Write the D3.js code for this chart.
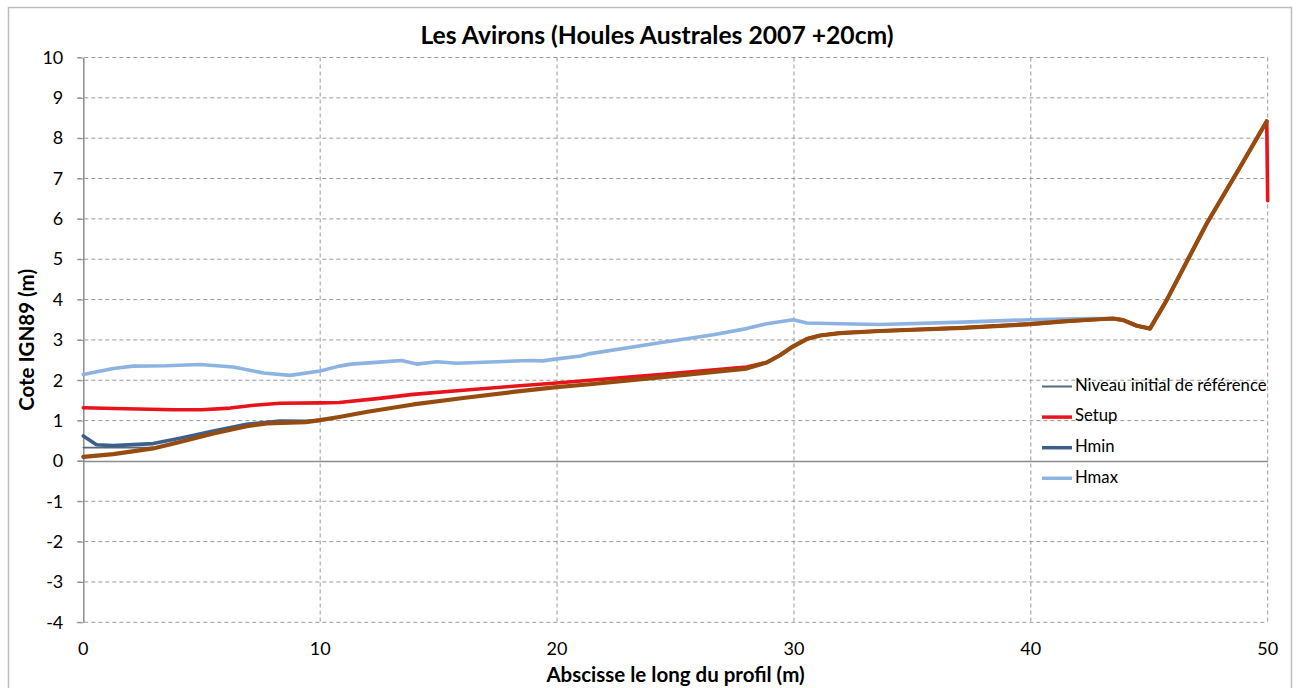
<!DOCTYPE html>
<html>
<head>
<meta charset="utf-8">
<script src="https://cdn.jsdelivr.net/npm/d3@7"></script>
<style>
  html, body { margin: 0; padding: 0; background: #ffffff; }
  svg { display: block; }
  text { font-family: Lato, "Open Sans", "DejaVu Sans", sans-serif; fill: #000; }
</style>
</head>
<body>
<svg id="chart" width="1297" height="688"></svg>
<script>
// Profile of the beach (terrain) along the cross-shore abscissa
const profileX = [0, 1.27, 2.95, 4.08, 5.49, 6.9, 7.76, 9.4, 10, 10.8, 12, 13.93, 16.04, 18.15, 19.98, 21.39, 24.34, 28, 28.85, 29.41, 29.97, 30.54, 31.1, 31.94, 33.63, 37.15, 39.96, 41.37, 42.5, 43.48, 43.9, 44.47, 45.03, 45.73, 47.42, 48.83, 49.96];
const profileZ = [0.10, 0.17, 0.31, 0.47, 0.68, 0.86, 0.93, 0.96, 1.01, 1.09, 1.22, 1.40, 1.56, 1.71, 1.83, 1.90, 2.07, 2.29, 2.44, 2.62, 2.84, 3.02, 3.11, 3.17, 3.22, 3.30, 3.39, 3.46, 3.50, 3.53, 3.49, 3.35, 3.28, 3.98, 5.88, 7.28, 8.42];

// Initial reference water level
const niveauX = [0, 3.2];
const niveauZ = [0.33, 0.33];

// Wave setup
const setupX = [0, 1.3, 3.8, 5, 6.2, 7.2, 8.3, 10, 10.8, 12.5, 13.93, 16.04, 18.15, 19.98, 21.39, 24.34, 28, 28.85, 29.41, 29.97, 30.54, 31.1, 31.94, 33.63, 37.15, 39.96, 41.37, 42.5, 43.48, 43.9, 44.47, 45.03, 45.73, 47.42, 48.83, 49.96, 50];
const setupZ = [1.32, 1.30, 1.27, 1.27, 1.31, 1.38, 1.43, 1.44, 1.45, 1.55, 1.65, 1.75, 1.85, 1.93, 2.00, 2.14, 2.33, 2.44, 2.62, 2.84, 3.02, 3.11, 3.17, 3.22, 3.30, 3.39, 3.46, 3.50, 3.53, 3.49, 3.35, 3.28, 3.98, 5.88, 7.28, 8.42, 6.45];

// Minimum water level
const hminX = [0, 0.56, 1.27, 2.95, 4.08, 5.49, 6.9, 8.3, 9.4, 10];
const hminZ = [0.62, 0.40, 0.38, 0.43, 0.56, 0.74, 0.91, 0.99, 0.98, 1.01];

// Maximum water level
const hmaxX = [0, 1.27, 2.1, 3.5, 4.93, 6.33, 7.6, 8.73, 10, 10.8, 11.3, 12.5, 13.44, 14.07, 14.92, 15.76, 17.45, 18.86, 19.4, 20, 21, 21.4, 24.34, 26.59, 28, 28.85, 29.97, 30.54, 31.94, 33.63, 37.15, 39.96, 42.5, 43.4];
const hmaxZ = [2.14, 2.29, 2.35, 2.36, 2.39, 2.33, 2.18, 2.12, 2.23, 2.35, 2.40, 2.45, 2.49, 2.40, 2.46, 2.42, 2.46, 2.49, 2.48, 2.53, 2.60, 2.66, 2.93, 3.13, 3.28, 3.40, 3.50, 3.42, 3.40, 3.38, 3.44, 3.50, 3.53, 3.53];

const xTicks = [0, 10, 20, 30, 40, 50];
const yTicks = [-4, -3, -2, -1, 0, 1, 2, 3, 4, 5, 6, 7, 8, 9, 10];
const legendLabels = ["Niveau initial de référence", "Setup", "Hmin", "Hmax"];

const svg = d3.select("#chart");

// Outer chart frame
svg.append("rect")
  .attr("x", 8.5).attr("y", 7.5)
  .attr("width", 1283).attr("height", 682)
  .attr("fill", "#fff").attr("stroke", "#bdbdbd").attr("stroke-width", 1.5);

const plot = { left: 83.3, right: 1267.7, top: 57.5, bottom: 622.3 };

const x = d3.scaleLinear().domain([0, 50]).range([plot.left, plot.right]);
const y = d3.scaleLinear().domain([-4, 10]).range([plot.bottom, plot.top]);

const grid = svg.append("g");

// Horizontal dashed gridlines (zero is drawn as the solid axis)
grid.selectAll("line.h").data(yTicks.filter(d => d !== 0)).join("line")
  .attr("x1", plot.left - 6).attr("x2", plot.right)
  .attr("y1", d => y(d)).attr("y2", d => y(d))
  .attr("stroke", "#9a9a9a").attr("stroke-width", 1)
  .attr("stroke-dasharray", "4,3");

// Vertical dashed gridlines
grid.selectAll("line.v").data(xTicks.filter(d => d !== 0)).join("line")
  .attr("x1", d => x(d)).attr("x2", d => x(d))
  .attr("y1", plot.top).attr("y2", plot.bottom)
  .attr("stroke", "#9a9a9a").attr("stroke-width", 1)
  .attr("stroke-dasharray", "4,3");

// Vertical axis line and its tick labels (plain hyphen for negatives)
const yAxis = d3.axisLeft(y).tickValues(yTicks).tickFormat(d => String(d))
  .tickSize(6).tickSizeOuter(0).tickPadding(14);
const yAxisG = svg.append("g").attr("transform", `translate(${plot.left},0)`).call(yAxis);
yAxisG.select(".domain").attr("stroke", "#8c8c8c").attr("stroke-width", 1.5);
yAxisG.selectAll(".tick line").attr("stroke", "#8c8c8c");
yAxisG.selectAll(".tick text").attr("font-size", 18).attr("font-family", "Lato, sans-serif").attr("fill", "#000");

// Horizontal axis crossing at zero, labels placed at the bottom of the plot
const xAxisG = svg.append("g").attr("transform", `translate(0,${y(0)})`)
  .call(d3.axisBottom(x).tickValues(xTicks).tickSize(0).tickFormat(""));
xAxisG.select(".domain").attr("stroke", "#8c8c8c").attr("stroke-width", 1.5);
svg.append("line")
  .attr("x1", plot.left - 6).attr("x2", plot.left)
  .attr("y1", y(0)).attr("y2", y(0))
  .attr("stroke", "#8c8c8c");

svg.append("g").selectAll("text").data(xTicks).join("text")
  .attr("x", d => x(d)).attr("y", plot.bottom + 28)
  .attr("text-anchor", "middle").attr("dominant-baseline", "middle")
  .attr("font-size", 18)
  .text(d => d);

// Series lines
const line = d3.line().x(d => x(d[0])).y(d => y(d[1]));
const zip = (xs, zs) => xs.map((v, i) => [v, zs[i]]);

const series = [
  { name: legendLabels[0], data: zip(niveauX, niveauZ), color: "#56687a", width: 1.6 },
  { name: legendLabels[1], data: zip(setupX, setupZ), color: "#e8131b", width: 3.6 },
  { name: legendLabels[2], data: zip(hminX, hminZ), color: "#3c5f8c", width: 3.6 },
  { name: legendLabels[3], data: zip(hmaxX, hmaxZ), color: "#8db3e2", width: 3.6 }
];

const lines = svg.append("g").attr("fill", "none").attr("stroke-linejoin", "round").attr("stroke-linecap", "round");
series.forEach(s => {
  lines.append("path").attr("d", line(s.data))
    .attr("stroke", s.color).attr("stroke-width", s.width);
});

// Terrain profile drawn on top
lines.append("path").attr("d", line(zip(profileX, profileZ)))
  .attr("stroke", "#974c0f").attr("stroke-width", 4.2);

// Legend
const legendTop = 386.5, legendStep = 30.6;
const legend = svg.append("g");
series.forEach((s, i) => {
  const ly = legendTop + i * legendStep;
  legend.append("line")
    .attr("x1", 1042).attr("x2", 1072).attr("y1", ly).attr("y2", ly)
    .attr("stroke", s.color).attr("stroke-width", s.width === 1.6 ? 2 : 3.5);
  legend.append("text")
    .attr("x", 1075).attr("y", ly).attr("dominant-baseline", "middle")
    .attr("font-size", 16.7).text(s.name);
});

// Title and axis titles
svg.append("text")
  .attr("x", 657).attr("y", 38).attr("text-anchor", "middle").attr("dominant-baseline", "middle")
  .attr("font-size", 24.7).attr("font-weight", "bold")
  .text("Les Avirons (Houles Australes 2007 +20cm)");

svg.append("text")
  .attr("transform", `translate(29,${(plot.top + plot.bottom) / 2}) rotate(-90)`)
  .attr("text-anchor", "middle").attr("dominant-baseline", "middle")
  .attr("font-size", 20.5).attr("font-weight", "bold")
  .text("Cote IGN89 (m)");

svg.append("text")
  .attr("x", (plot.left + plot.right) / 2).attr("y", 677)
  .attr("text-anchor", "middle").attr("dominant-baseline", "middle")
  .attr("font-size", 20.5).attr("font-weight", "bold")
  .text("Abscisse le long du profil (m)");
</script>
</body>
</html>
